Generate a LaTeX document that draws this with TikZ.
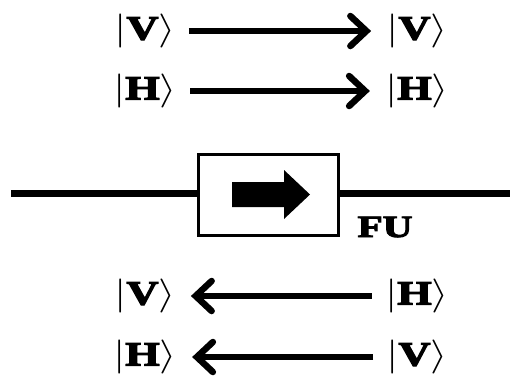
\documentclass[tikz,border=0pt]{standalone}
\usepackage{fix-cm}
\usepackage{fontspec}
\setmainfont{Liberation Serif}[BoldFeatures={FakeBold=3}]
\usetikzlibrary{arrows.meta}
\newcommand{\ket}[1]{\scalebox{1.3}[1]{$|$\textbf{#1}$\rangle$}}
\tikzset{
  ketlabel/.style={font=\fontsize{34}{38}\selectfont, inner sep=0pt},
  thickarrow/.style={line width=6.5pt, -{Straight Barb[length=16pt,width=30pt,line cap=round]}, shorten >=2pt},
  boxstyle/.style={draw, line width=3.5pt, minimum width=140pt, minimum height=81pt, inner sep=0pt},
  wire/.style={line width=7pt},
}
\begin{document}
\begin{tikzpicture}[x=1pt,y=-1pt]
\useasboundingbox (0,0) rectangle (510,376);
% row 1
\node[ketlabel] (v1l) at (145,31) {\ket{V}};
\node[ketlabel] (v1r) at (417,31) {\ket{V}};
\node[ketlabel] (h1l) at (145,91) {\ket{H}};
\node[ketlabel] (h1r) at (417,91) {\ket{H}};
\draw[thickarrow] ([xshift=13pt]v1l.east) -- ([xshift=-13pt]v1r.west);
\draw[thickarrow] ([xshift=13pt]h1l.east) -- ([xshift=-13pt]h1r.west);
% isolator
\node[boxstyle] (box) at (268.5,195) {};
\coordinate (wl) at (11,193);
\coordinate (wr) at (510,193);
\draw[wire] (wl) -- (wl -| box.west);
\draw[wire] (wr -| box.east) -- (wr);
\fill (232,182) -- (284,182) -- (284,170) -- (310,194.5) -- (284,219) -- (284,207) -- (232,207) -- cycle;
\node[ketlabel, font=\fontsize{31}{35}\selectfont\bfseries] (fu) at (385,227) {\scalebox{1.33}[1]{FU}};
% bottom rows
\node[ketlabel] (v2l) at (145,296) {\ket{V}};
\node[ketlabel] (h2r) at (417,296) {\ket{H}};
\node[ketlabel] (h2l) at (145,357) {\ket{H}};
\node[ketlabel] (v2r) at (417,357) {\ket{V}};
\draw[thickarrow] ([xshift=-13pt]h2r.west) -- ([xshift=13pt]v2l.east);
\draw[thickarrow] ([xshift=-13pt]v2r.west) -- ([xshift=13pt]h2l.east);
\end{tikzpicture}
\end{document}
